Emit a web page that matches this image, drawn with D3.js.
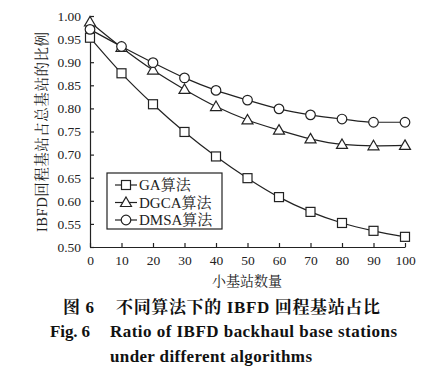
<!DOCTYPE html>
<html>
<head>
<meta charset="utf-8">
<script src="https://cdn.jsdelivr.net/npm/d3@7"></script>
<style>
  body { margin: 0; background: #fff; }
  svg text { font-family: "Liberation Serif", "Times New Roman", "Noto Serif CJK SC", "Noto Sans CJK SC", serif; }
</style>
</head>
<body>
<svg id="chart" width="447" height="374"></svg>
<script>
// chart data
const xValues = [0, 10, 20, 30, 40, 50, 60, 70, 80, 90, 100];
const gaValues = [0.953, 0.876, 0.809, 0.749, 0.696, 0.649, 0.608, 0.576, 0.552, 0.535, 0.522];
const dgcaValues = [0.987, 0.932, 0.883, 0.841, 0.804, 0.775, 0.753, 0.734, 0.722, 0.719, 0.720];
const dmsaValues = [0.971, 0.934, 0.899, 0.866, 0.839, 0.818, 0.799, 0.786, 0.777, 0.770, 0.770];
const seriesNames = ["GA算法", "DGCA算法", "DMSA算法"];
const yTicks = [0.50, 0.55, 0.60, 0.65, 0.70, 0.75, 0.80, 0.85, 0.90, 0.95, 1.00];

const INK = "#222";

const svg = d3.select("#chart");
const x = d3.scaleLinear().domain([0, 100]).range([90, 405]);
const y = d3.scaleLinear().domain([0.5, 1.0]).range([247, 16]);

// axes with inward ticks
svg.append("g")
    .attr("transform", "translate(0,247)")
    .call(d3.axisBottom(x).tickValues(xValues).tickSizeInner(-4).tickSizeOuter(0).tickPadding(8))
    .call(g => g.selectAll("text").attr("font-size", 13.5).attr("fill", INK));

svg.append("g")
    .attr("transform", "translate(90,0)")
    .call(d3.axisLeft(y).tickValues(yTicks).tickFormat(d3.format(".2f")).tickSizeInner(-4).tickSizeOuter(0).tickPadding(9))
    .call(g => g.selectAll("text").attr("font-size", 13.5).attr("fill", INK));

svg.selectAll("g").attr("font-family", null);
svg.selectAll(".domain, .tick line").attr("stroke", INK).attr("stroke-width", 1.2);

// axis titles
svg.append("text")
    .attr("x", 247).attr("y", 286)
    .attr("text-anchor", "middle")
    .attr("font-size", 14)
    .attr("fill", INK)
    .text("小基站数量");

svg.append("text")
    .attr("transform", "translate(47,132) rotate(-90)")
    .attr("text-anchor", "middle")
    .attr("font-size", 14.5)
    .attr("textLength", 200)
    .attr("lengthAdjust", "spacing")
    .attr("fill", INK)
    .text("IBFD回程基站占总基站的比例");

// series
const series = [
    { name: seriesNames[0], values: gaValues, marker: "square" },
    { name: seriesNames[1], values: dgcaValues, marker: "triangle" },
    { name: seriesNames[2], values: dmsaValues, marker: "circle" }
];

const line = d3.line()
    .x((d, i) => x(xValues[i]))
    .y(d => y(d))
    .curve(d3.curveMonotoneX);

function drawMarker(g, type, cx, cy) {
    if (type === "square") {
        g.append("rect").attr("x", cx - 4.5).attr("y", cy - 4.5).attr("width", 9).attr("height", 9);
    } else if (type === "triangle") {
        g.append("path").attr("d", `M${cx},${cy - 5.5}L${cx + 5.5},${cy + 4}L${cx - 5.5},${cy + 4}Z`);
    } else {
        g.append("circle").attr("cx", cx).attr("cy", cy).attr("r", 4.8);
    }
}

series.forEach(s => {
    svg.append("path")
        .attr("d", line(s.values))
        .attr("fill", "none")
        .attr("stroke", INK)
        .attr("stroke-width", 1.2);
    const mg = svg.append("g").attr("fill", "#fff").attr("stroke", INK).attr("stroke-width", 1.2);
    s.values.forEach((v, i) => drawMarker(mg, s.marker, x(xValues[i]), y(v)));
});

// legend
const legend = svg.append("g");
legend.append("rect")
    .attr("x", 107).attr("y", 173).attr("width", 115).attr("height", 56)
    .attr("fill", "#fff").attr("stroke", INK).attr("stroke-width", 1.2);

series.forEach((s, i) => {
    const ly = 185 + i * 17.5;
    legend.append("line")
        .attr("x1", 115).attr("x2", 137).attr("y1", ly).attr("y2", ly)
        .attr("stroke", INK).attr("stroke-width", 1.2);
    const mg = legend.append("g").attr("fill", "#fff").attr("stroke", INK).attr("stroke-width", 1.2);
    drawMarker(mg, s.marker, 126, ly);
    legend.append("text")
        .attr("x", 139).attr("y", ly + 5)
        .attr("font-size", 15)
        .attr("fill", INK)
        .text(s.name);
});

// caption
const caption = [
    { text: "图 6", x: 63, y: 313, w: 31 },
    { text: "不同算法下的 IBFD 回程基站占比", x: 116, y: 313, w: 264 },
    { text: "Fig. 6", x: 50, y: 337, w: 40 },
    { text: "Ratio of IBFD backhaul base stations", x: 110, y: 337, w: 287 },
    { text: "under different algorithms", x: 110, y: 362, w: 202 }
];
svg.selectAll(".caption")
    .data(caption)
    .join("text")
    .attr("class", "caption")
    .attr("x", d => d.x).attr("y", d => d.y)
    .attr("textLength", d => d.w)
    .attr("lengthAdjust", "spacing")
    .attr("font-size", 17)
    .attr("font-weight", "bold")
    .attr("fill", "#111")
    .text(d => d.text);
</script>
</body>
</html>
